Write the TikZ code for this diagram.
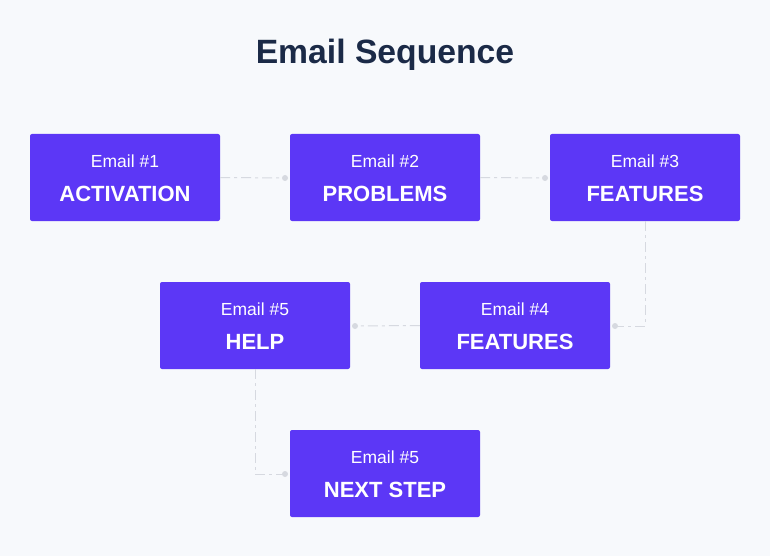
\documentclass[tikz,border=0pt]{standalone}
\usepackage{fontspec}
\setmainfont{Liberation Sans}
\definecolor{bg}{HTML}{F7F9FC}
\definecolor{boxc}{HTML}{5C37F6}
\definecolor{titlec}{HTML}{1B2A47}
\definecolor{linec}{HTML}{D6D9E0}
\tikzset{
  x=1pt,y=-1pt,
  mailbox/.style={fill=boxc,rounded corners=2pt,minimum width=190pt,minimum height=87pt,inner sep=0pt},
  small/.style={text=white,font=\fontsize{17.5}{19}\selectfont,inner sep=0pt},
  big/.style={text=white,font=\fontsize{22}{24}\selectfont\bfseries,inner sep=0pt},
  conn/.style={draw=linec,line width=1pt,dash pattern=on 10pt off 4pt on 3pt off 4pt},
  enddot/.style={circle,fill=linec,minimum size=6pt,inner sep=0pt},
}
\begin{document}
\begin{tikzpicture}
\fill[bg] (0,0) rectangle (770,556);
\useasboundingbox (0,0) rectangle (770,556);
\node[text=titlec,font=\fontsize{33.7}{38}\selectfont\bfseries,inner sep=0pt] (title) at (385,55) {Email Sequence};
% boxes
\node[mailbox] (b1) at (125,177.5) {};
\node[mailbox] (b2) at (385,177.5) {};
\node[mailbox] (b3) at (645,177.5) {};
\node[mailbox] (b4) at (515,325.5) {};
\node[mailbox] (b5) at (255,325.5) {};
\node[mailbox] (b6) at (385,473.5) {};
% texts
\node[small] (t1a) at (125,161) {Email \#1};
\node[big] (t1b) at (125,194) {ACTIVATION};
\node[small] (t2a) at (385,161) {Email \#2};
\node[big] (t2b) at (385,194) {PROBLEMS};
\node[small] (t3a) at (645,161) {Email \#3};
\node[big] (t3b) at (645,194) {FEATURES};
\node[small] (t4a) at (515,309) {Email \#4};
\node[big] (t4b) at (515,342) {FEATURES};
\node[small] (t5a) at (255,309) {Email \#5};
\node[big] (t5b) at (255,342) {HELP};
\node[small] (t6a) at (385,457) {Email \#5};
\node[big] (t6b) at (385,490) {NEXT STEP};
% connector endpoints
\node[enddot] (d1) at (285,178) {};
\node[enddot] (d2) at (545,178) {};
\node[enddot] (d3) at (615,326) {};
\node[enddot] (d4) at (355,326) {};
\node[enddot] (d5) at (285,474) {};
\draw[conn] (b1.east) -- (d1.center);
\draw[conn] (b2.east) -- (d2.center);
\draw[conn] (b3.south) |- (d3.center);
\draw[conn] (b4.west) -- (d4.center);
\draw[conn] (b5.south) |- (d5.center);
\end{tikzpicture}
\end{document}
